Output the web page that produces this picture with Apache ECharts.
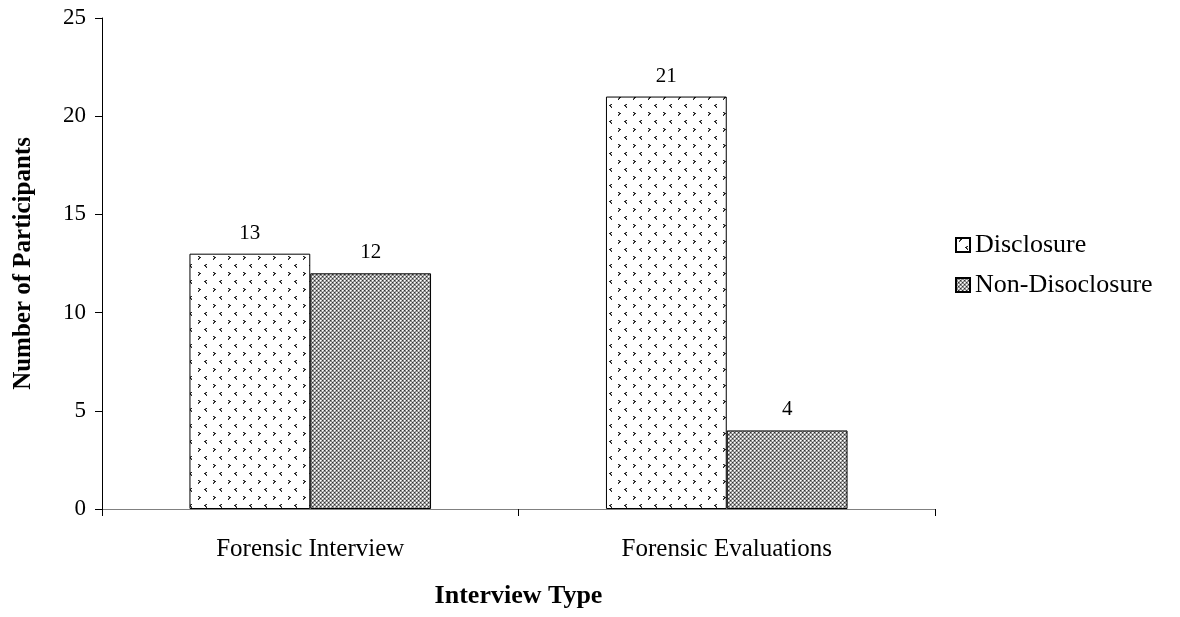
<!DOCTYPE html>
<html>
<head>
<meta charset="utf-8">
<script src="https://cdn.jsdelivr.net/npm/echarts@6/dist/echarts.min.js"></script>
<style>html,body{margin:0;padding:0;background:#fff}#c{width:1180px;height:617px}</style>
</head>
<body>
<div id="c"></div>
<script>
var categories = ['Forensic Interview', 'Forensic Evaluations'];
var disclosure = [13, 21];
var nonDisclosure = [12, 4];
var seriesNames = ['Disclosure', 'Non-Disoclosure'];
var yTicks = [0, 5, 10, 15, 20, 25];

function makeTile(w, h, draw) {
  var c = document.createElement('canvas');
  c.width = w; c.height = h;
  var ctx = c.getContext('2d');
  draw(ctx);
  return c;
}
function px(ctx, x, y, col) { ctx.fillStyle = col; ctx.fillRect(x, y, 1, 1); }

var tileA = makeTile(15, 16, function (ctx) {
  ctx.fillStyle = '#fff'; ctx.fillRect(0, 0, 15, 16);
  var d = '#222', m = '#777';
  // ">" chevron
  px(ctx, 3, 0, d); px(ctx, 4, 0, m); px(ctx, 4, 1, d); px(ctx, 5, 1, d); px(ctx, 4, 2, d); px(ctx, 3, 3, d); px(ctx, 3, 2, m);
  // "<" chevron
  px(ctx, 11, 8, d); px(ctx, 10, 8, m); px(ctx, 10, 9, d); px(ctx, 9, 9, d); px(ctx, 10, 10, d); px(ctx, 11, 11, d); px(ctx, 11, 10, m);
});
var tileB = makeTile(4, 4, function (ctx) {
  ctx.fillStyle = '#8a8a8a'; ctx.fillRect(0, 0, 4, 4);
  px(ctx, 0, 0, '#ffffff'); px(ctx, 2, 2, '#ffffff');
  px(ctx, 1, 0, '#d0d0d0'); px(ctx, 3, 2, '#d0d0d0');
  px(ctx, 0, 1, '#d0d0d0'); px(ctx, 2, 3, '#d0d0d0');
  px(ctx, 2, 0, '#333333'); px(ctx, 0, 2, '#333333');
});

var font = '"Liberation Serif", "Times New Roman", serif';
var chart = echarts.init(document.getElementById('c'));
chart.setOption({
  animation: false,
  textStyle: { fontFamily: font, color: '#000' },
  grid: { left: 102, right: 245, top: 18, bottom: 108 },
  legend: {
    orient: 'vertical', left: 950, top: 227,
    itemWidth: 14, itemHeight: 14, itemGap: 14,
    icon: 'rect',
    textStyle: { fontFamily: font, fontSize: 26, color: '#000' },
    data: seriesNames
  },
  xAxis: {
    type: 'category', data: categories,
    name: 'Interview Type', nameLocation: 'middle', nameGap: 74,
    nameTextStyle: { fontFamily: font, fontSize: 26, fontWeight: 'bold', color: '#000' },
    axisLine: { lineStyle: { color: '#808080', width: 1 } },
    axisTick: { show: true, length: 7, lineStyle: { color: '#000' } },
    axisLabel: { fontFamily: font, fontSize: 25, color: '#000', margin: 28 }
  },
  yAxis: {
    type: 'value', min: yTicks[0], max: yTicks[yTicks.length - 1], interval: 5,
    name: 'Number of Participants', nameLocation: 'middle', nameGap: 66,
    nameTextStyle: { fontFamily: font, fontSize: 25, fontWeight: 'bold', color: '#000' },
    axisLine: { show: true, lineStyle: { color: '#000', width: 1 } },
    axisTick: { show: true, length: 7, lineStyle: { color: '#000' } },
    splitLine: { show: false },
    axisLabel: { fontFamily: font, fontSize: 23, color: '#000', margin: 16 }
  },
  series: [
    {
      name: seriesNames[0], type: 'bar', data: disclosure,
      barGap: '0%', barCategoryGap: '42%',
      itemStyle: { color: { image: tileA, repeat: 'repeat' }, borderColor: '#000', borderWidth: 1 },
      label: { show: true, position: 'top', distance: 10, fontFamily: font, fontSize: 21, color: '#000' }
    },
    {
      name: seriesNames[1], type: 'bar', data: nonDisclosure,
      barGap: '0%', barCategoryGap: '42%',
      itemStyle: { color: { image: tileB, repeat: 'repeat' }, borderColor: '#000', borderWidth: 1 },
      label: { show: true, position: 'top', distance: 10, fontFamily: font, fontSize: 21, color: '#000' }
    }
  ]
});
</script>
</body>
</html>
